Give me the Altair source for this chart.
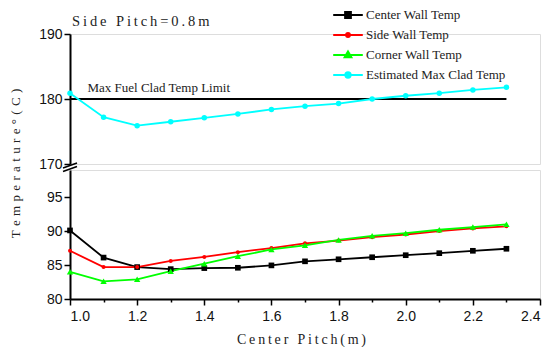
import altair as alt
import pandas as pd

# ---------------- data ----------------
pitch = [1.0, 1.1, 1.2, 1.3, 1.4, 1.5, 1.6, 1.7, 1.8, 1.9, 2.0, 2.1, 2.2, 2.3]
center_wall = [90.1, 86.1, 84.7, 84.4, 84.55, 84.6, 84.95, 85.55, 85.85, 86.15, 86.45, 86.75, 87.1, 87.4]
side_wall = [87.1, 84.7, 84.7, 85.6, 86.2, 86.9, 87.5, 88.2, 88.6, 89.1, 89.5, 90.0, 90.4, 90.7]
corner_wall = [84.0, 82.6, 82.9, 84.1, 85.2, 86.3, 87.3, 87.9, 88.7, 89.3, 89.7, 90.2, 90.6, 91.0]
max_clad = [180.9, 177.2, 175.9, 176.5, 177.1, 177.7, 178.4, 178.9, 179.3, 180.0, 180.5, 180.9, 181.4, 181.8]

series_names = ["Center Wall Temp", "Side Wall Temp", "Corner Wall Temp", "Estimated Max Clad Temp"]
series_colors = ["#000000", "#ff0000", "#00ff00", "#00ffff"]
series_shapes = ["square", "circle", "triangle-up", "circle"]
series_sizes = [32, 16, 40, 30]

limit_value = [180]
limit_label = ["Max Fuel Clad Temp Limit"]
limit_span = [1.0, 2.3]

x_ticks = [round(1.0 + 0.1 * i, 1) for i in range(15)]
upper_ticks = [170 + 1.25 * i for i in range(17)]
lower_ticks = [80 + 1.25 * i for i in range(16)]


def spaced(text, gap):
    return gap.join(text)


# letter-spaced titles
title_text = [spaced("Side Pitch=0.8m", "\u2009")]
x_title = spaced("Center Pitch(m)", "\u2009")
y_title = spaced("Temperature°(C)", "\u2004")

# legend symbols: a short line with the series marker in its middle
legend_paths = [
    "M-1.85,0H1.85M-0.36,-0.36H0.36V0.36H-0.36Z",
    "M-1.85,0H1.85M-0.24,0A0.24,0.24 0 1,0 0.24,0A0.24,0.24 0 1,0 -0.24,0Z",
    "M-1.85,0H1.85M0,-0.45L0.42,0.28H-0.42Z",
    "M-1.85,0H1.85M-0.33,0A0.33,0.33 0 1,0 0.33,0A0.33,0.33 0 1,0 -0.33,0Z",
]

# ---------------- tables ----------------
def table(names, values_list):
    rows = []
    for name, vals in zip(names, values_list):
        for x, v in zip(pitch, vals):
            rows.append({"pitch": x, "temp": v, "series": name})
    return pd.DataFrame(rows)

low_df = table(series_names[:3], [center_wall, side_wall, corner_wall])
up_df = table(series_names[3:], [max_clad])
limit_df = pd.DataFrame({"x": [limit_span[0]], "x2": [limit_span[1]], "y": limit_value,
                         "label": limit_label, "lx": [1.052]})
title_df = pd.DataFrame({"t": title_text})
dummy = pd.DataFrame({"k": [0]})

SANS = "Liberation Sans"
SERIF = "Liberation Serif"

x_scale = alt.Scale(domain=[1.0, 2.4], nice=False, zero=False)
color_scale = alt.Scale(domain=series_names, range=series_colors)
legend_shape_scale = alt.Scale(domain=series_names, range=legend_paths)

legend = alt.Legend(orient="none", legendX=269, legendY=-28, title=None,
                    symbolSize=256, symbolStrokeWidth=2, symbolOpacity=1,
                    labelFont=SERIF, labelFontSize=13, labelColor="#222",
                    rowPadding=4, labelOffset=9, padding=0)

def y_axis(ticks, title=None):
    kw = dict(values=ticks,
              labelExpr="datum.value % 5 === 0 ? format(datum.value, 'd') : ''",
              tickSize={"condition": {"test": "datum.value % 5 === 0", "value": 6}, "value": 3},
              labelFont=SANS, labelFontSize=14, labelColor="#111", labelPadding=2,
              domainColor="#000", domainWidth=2, tickColor="#000", tickWidth=1.5,
              grid=False)
    if title is not None:
        kw.update(title=title, titleFont=SERIF, titleFontSize=13, titleFontWeight="normal",
                  titleColor="#222", titleY=129, titleX=-48, titleAngle=-90)
    else:
        kw.update(title=None)
    return alt.Axis(**kw)

x_axis = alt.Axis(values=x_ticks,
                  labelExpr="round(datum.value * 10) % 2 === 0 ? format(datum.value, '.1f') : ''",
                  tickSize={"condition": {"test": "round(datum.value * 10) % 2 === 0", "value": 6}, "value": 3},
                  labelFont=SANS, labelFontSize=14, labelColor="#111", labelPadding=4,
                  domainColor="#000", domainWidth=2, tickColor="#000", tickWidth=1.5,
                  grid=False, title=x_title, titleFont=SERIF, titleFontSize=14,
                  titleFontWeight="normal", titleColor="#222",
                  titleX=231, titleY=33, titleAlign="center", titleBaseline="top")

def series_layers(df, names, yscale, yaxis, xaxis=None):
    base = alt.Chart(df)
    X = alt.X("pitch:Q", scale=x_scale, axis=xaxis)
    layers = [base.mark_line(strokeWidth=1.8).encode(
        x=X, y=alt.Y("temp:Q", scale=yscale, axis=yaxis),
        color=alt.Color("series:N", scale=color_scale, legend=legend))]
    for name in names:
        i = series_names.index(name)
        layers.append(base.transform_filter(alt.datum.series == name).mark_point(
            filled=True, opacity=1, shape=series_shapes[i], size=series_sizes[i]).encode(
            x=X, y=alt.Y("temp:Q", scale=yscale),
            color=alt.Color("series:N", scale=color_scale, legend=legend)))
    # empty layer that only supplies the legend symbols
    layers.append(base.transform_filter("false").mark_point(filled=True, opacity=1).encode(
        x=X, y=alt.Y("temp:Q", scale=yscale),
        color=alt.Color("series:N", scale=color_scale, legend=legend),
        shape=alt.Shape("series:N", scale=legend_shape_scale, legend=legend)))
    return layers

# ---------------- upper panel ----------------
up_scale = alt.Scale(domain=[170, 190], nice=False, zero=False)

limit_rule = alt.Chart(limit_df).mark_rule(color="#000", strokeWidth=1.8).encode(
    x=alt.X("x:Q", scale=x_scale, axis=None), x2="x2:Q",
    y=alt.Y("y:Q", scale=up_scale, axis=y_axis(upper_ticks, y_title)))
limit_text = alt.Chart(limit_df).mark_text(
    align="left", baseline="bottom", dy=-4, font=SERIF, fontSize=13, color="#222").encode(
    x=alt.X("lx:Q", scale=x_scale, axis=None), y=alt.Y("y:Q", scale=up_scale), text="label:N")

title_mark = alt.Chart(title_df).mark_text(
    align="left", baseline="alphabetic", font=SERIF, fontSize=14.5, color="#222").encode(
    x=alt.value(2), y=alt.value(-8), text="t:N")

brk1 = alt.Chart(dummy).mark_rule(color="#000", strokeWidth=1.6).encode(
    x=alt.value(-7), x2=alt.value(7), y=alt.value(134), y2=alt.value(129))
brk2 = alt.Chart(dummy).mark_rule(color="#000", strokeWidth=1.6).encode(
    x=alt.value(-7), x2=alt.value(7), y=alt.value(137.5), y2=alt.value(132.5))

upper = alt.layer(limit_rule, limit_text,
                  *series_layers(up_df, series_names[3:], up_scale, y_axis(upper_ticks, y_title)),
                  brk1, brk2, title_mark).properties(width=470, height=130)

# ---------------- lower panel ----------------
low_scale = alt.Scale(domain=[80, 99], nice=False, zero=False)
lower = alt.layer(*series_layers(low_df, series_names[:3], low_scale,
                                 y_axis(lower_ticks), x_axis)).properties(width=470, height=129)

chart = alt.vconcat(upper, lower, spacing=6, bounds="flush").properties(
    padding={"left": 8, "top": 6, "right": 5, "bottom": 5},
).configure_view(stroke="transparent").configure(background="white")

chart.save("out.html", embed_options={"renderer": "svg", "actions": False})
